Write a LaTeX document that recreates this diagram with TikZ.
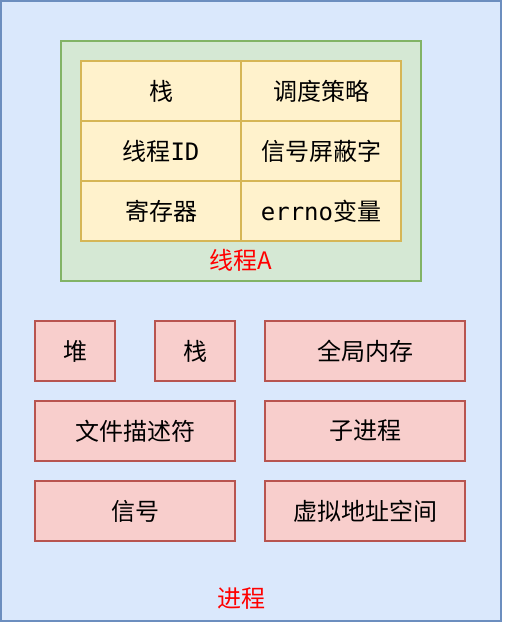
\documentclass[tikz,border=0pt]{standalone}
\usepackage{fontspec}
\setmainfont{Noto Sans CJK SC}
\newfontfamily\monofont{DejaVu Sans Mono}
\usetikzlibrary{positioning}
\definecolor{procfill}{HTML}{DAE8FC}
\definecolor{procline}{HTML}{6C8EBF}
\definecolor{thrfill}{HTML}{D5E8D4}
\definecolor{thrline}{HTML}{82B366}
\definecolor{cellfill}{HTML}{FFF2CC}
\definecolor{cellline}{HTML}{D6B656}
\definecolor{resfill}{HTML}{F8CECC}
\definecolor{resline}{HTML}{B85450}
\tikzset{
  txt/.style = {font=\fontsize{24}{26}\selectfont},
  cell/.style = {txt, draw=cellline, fill=cellfill, line width=1.3pt,
    minimum width=160pt, minimum height=60pt, inner sep=0pt, outer sep=0pt},
  res/.style = {txt, draw=resline, fill=resfill, line width=1.3pt,
    minimum height=60pt, inner sep=0pt},
  tag/.style = {txt, text=red}
}
\begin{document}
\begin{tikzpicture}[x=1pt, y=-1pt, node distance=0pt]
\useasboundingbox (0,0) rectangle (504,624);
% process
\node[draw=procline, fill=procfill, line width=1.5pt, minimum width=500pt,
  minimum height=620pt, inner sep=0pt] (proc) at (251,311) {};
\node[tag] (proclabel) at (241,599) {进程};

% thread A
\node[draw=thrline, fill=thrfill, line width=1.3pt, minimum width=360pt,
  minimum height=240pt, inner sep=0pt] (thr) at (241,161) {};
\node[cell] (stack) at (161,91) {栈};
\node[cell, right=of stack] (sched) {调度策略};
\node[cell, below=of stack] (tid) {线程{\monofont ID}};
\node[cell, right=of tid] (sigmask) {信号屏蔽字};
\node[cell, below=of tid] (regs) {寄存器};
\node[cell, right=of regs] (errno) {{\monofont errno}变量};
\node[tag] (thrlabel) at (241,260) {线程A};

% shared resources
\node[res, minimum width=80pt] (heap) at (75,351) {堆};
\node[res, minimum width=80pt] (pstack) at (195,351) {栈};
\node[res, minimum width=200pt] (mem) at (365,351) {全局内存};
\node[res, minimum width=200pt] (fd) at (135,431) {文件描述符};
\node[res, minimum width=200pt] (child) at (365,431) {子进程};
\node[res, minimum width=200pt] (sig) at (135,511) {信号};
\node[res, minimum width=200pt] (vas) at (365,511) {虚拟地址空间};
\end{tikzpicture}
\end{document}
